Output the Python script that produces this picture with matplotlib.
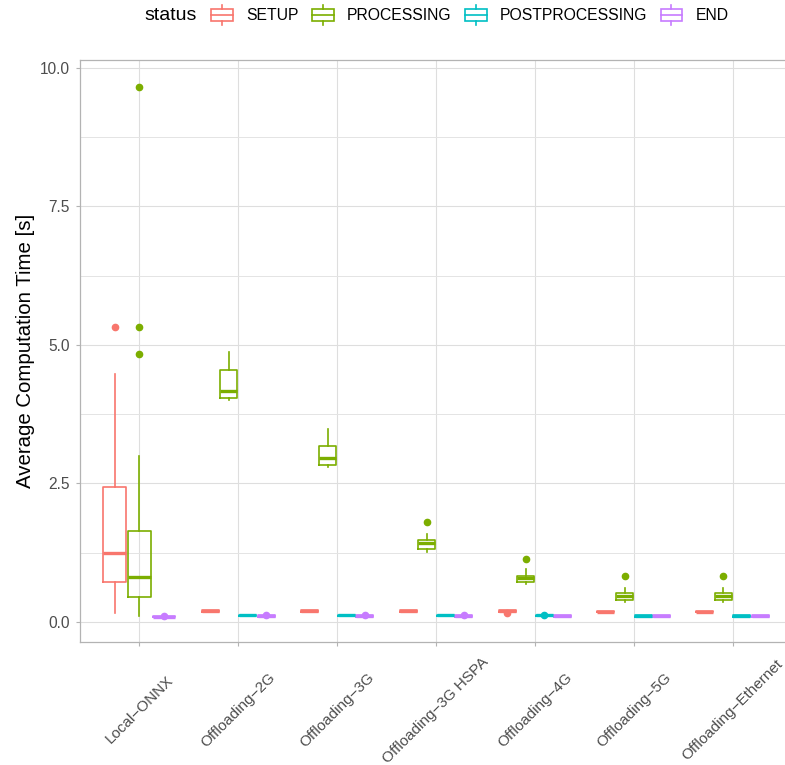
import matplotlib
matplotlib.use("Agg")
import matplotlib.pyplot as plt
from matplotlib.legend_handler import HandlerBase
from matplotlib.patches import Rectangle, Patch
from matplotlib.lines import Line2D

plt.rcParams['font.family'] = ['Liberation Sans', 'DejaVu Sans']

categories = ["Local\u2212ONNX", "Offloading\u22122G", "Offloading\u22123G",
              "Offloading\u22123G HSPA", "Offloading\u22124G", "Offloading\u22125G",
              "Offloading\u2212Ethernet"]
statuses = ["SETUP", "PROCESSING", "POSTPROCESSING", "END"]
colors = ["#F8766D", "#7CAE00", "#00BFC4", "#C77CFF"]

# five-number summaries per category: whisker low, q1, median, q3, whisker high
setup_box = [[0.16, 0.73, 1.24, 2.43, 4.47],
             [0.19, 0.19, 0.20, 0.21, 0.21],
             [0.19, 0.19, 0.20, 0.21, 0.21],
             [0.19, 0.19, 0.20, 0.21, 0.21],
             [0.19, 0.19, 0.20, 0.21, 0.21],
             [0.18, 0.18, 0.19, 0.20, 0.20],
             [0.18, 0.18, 0.19, 0.20, 0.20]]
setup_out = [[5.32], [], [], [], [0.17], [], []]

processing_box = [[0.11, 0.46, 0.81, 1.65, 3.00],
                  [4.01, 4.04, 4.16, 4.55, 4.88],
                  [2.80, 2.83, 2.96, 3.18, 3.48],
                  [1.27, 1.31, 1.43, 1.48, 1.59],
                  [0.69, 0.73, 0.79, 0.83, 0.95],
                  [0.36, 0.40, 0.47, 0.52, 0.62],
                  [0.36, 0.40, 0.47, 0.52, 0.62]]
processing_out = [[4.83, 5.32, 9.65], [], [], [1.81], [1.14], [0.83], [0.83]]

postprocessing_box = [None,
                      [0.11, 0.11, 0.12, 0.13, 0.13],
                      [0.11, 0.11, 0.12, 0.13, 0.13],
                      [0.11, 0.11, 0.12, 0.13, 0.13],
                      [0.11, 0.11, 0.12, 0.13, 0.13],
                      [0.10, 0.10, 0.11, 0.12, 0.12],
                      [0.10, 0.10, 0.11, 0.12, 0.12]]
postprocessing_out = [[], [], [], [], [0.13], [], []]

end_box = [[0.09, 0.09, 0.10, 0.11, 0.11],
           [0.10, 0.10, 0.11, 0.12, 0.12],
           [0.10, 0.10, 0.11, 0.12, 0.12],
           [0.10, 0.10, 0.11, 0.12, 0.12],
           [0.10, 0.10, 0.11, 0.12, 0.12],
           [0.10, 0.10, 0.11, 0.12, 0.12],
           [0.10, 0.10, 0.11, 0.12, 0.12]]
end_out = [[0.11], [0.12], [0.12], [0.12], [], [], []]

all_box = [setup_box, processing_box, postprocessing_box, end_box]
all_out = [setup_out, processing_out, postprocessing_out, end_out]


class BoxKey(HandlerBase):
    def create_artists(self, legend, orig_handle, xdescent, ydescent,
                       width, height, fontsize, trans):
        c = orig_handle.get_edgecolor()
        x0, y0 = -xdescent, -ydescent
        cx, cy = x0 + width / 2, y0 + height / 2
        w = 0.35 * height
        arts = [Rectangle((x0, y0), width, height, fill=False, ec=c, lw=1.2),
                Line2D([x0, x0 + width], [cy, cy], color=c, lw=1.2),
                Line2D([cx, cx], [y0 + height, y0 + height + w], color=c, lw=1.2),
                Line2D([cx, cx], [y0 - w, y0], color=c, lw=1.2)]
        for a in arts:
            a.set_transform(trans)
        return arts


fig = plt.figure(figsize=(7.85, 7.65), dpi=100)
ax = fig.add_axes([80 / 785, 123 / 765, 712 / 785, 582 / 765])

lw = 1.2
for i in range(len(categories)):
    present = [j for j in range(4) if all_box[j][i] is not None]
    slot = 0.75 / len(present)
    for k, j in enumerate(present):
        lo, q1, med, q3, hi = all_box[j][i]
        st = dict(whislo=lo, q1=q1, med=med, q3=q3, whishi=hi, fliers=all_out[j][i])
        pos = i + 1 - 0.375 + slot * (k + 0.5)
        c = colors[j]
        ax.bxp([st], positions=[pos], widths=[slot * 0.92], showcaps=False,
               manage_ticks=False,
               boxprops=dict(color=c, lw=lw),
               whiskerprops=dict(color=c, lw=lw),
               medianprops=dict(color=c, lw=lw * 2, solid_capstyle='butt'),
               flierprops=dict(marker='o', mfc=c, mec=c, ms=4.5))

ax.set_xlim(0.4, 7.6)
ax.set_ylim(-0.36, 10.14)
ax.set_xticks(range(1, len(categories) + 1))
ax.set_xticklabels(categories, rotation=45, ha='center', va='center',
                   fontsize=11, color='#4D4D4D')
ax.set_yticks([0, 2.5, 5, 7.5, 10])
ax.set_yticklabels(["0.0", "2.5", "5.0", "7.5", "10.0"], fontsize=11.2, color='#4D4D4D')
ax.set_yticks([1.25, 3.75, 6.25, 8.75], minor=True)
ax.tick_params(axis='x', length=3, width=0.8, color='#B3B3B3', pad=46)
ax.tick_params(axis='y', length=3, width=0.8, color='#B3B3B3', pad=4.5)
ax.tick_params(axis='y', which='minor', length=0)
ax.grid(True, which='major', color='#DEDEDE', lw=0.8)
ax.grid(True, which='minor', axis='y', color='#E4E4E4', lw=0.7)
ax.set_axisbelow(True)
for s in ax.spines.values():
    s.set_color('#B3B3B3')
    s.set_linewidth(0.9)
ax.set_ylabel("Average Computation Time [s]", fontsize=14.7, labelpad=3)

handles = [Patch(edgecolor=c, facecolor='none') for c in colors]
fig.text(144 / 785, 1 - 16 / 765, "status", fontsize=14, va='center', ha='left')
fig.legend(handles, statuses, handler_map={Patch: BoxKey()}, ncol=4,
           loc='center left', bbox_to_anchor=(211 / 785, 1 - 16 / 765),
           frameon=False, fontsize=11.35, borderpad=0, borderaxespad=0,
           handlelength=1.38, handleheight=0.73, handletextpad=0.83,
           columnspacing=0.86)

fig.savefig("out.png", dpi=100)
